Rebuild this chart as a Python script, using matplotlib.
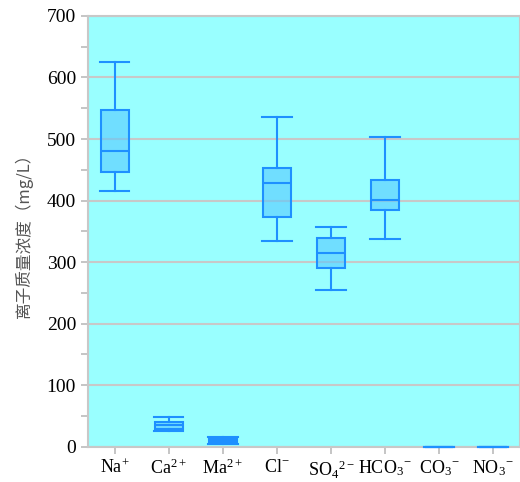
import matplotlib
matplotlib.use("Agg")
import matplotlib.pyplot as plt

plt.rcParams["font.family"] = "Liberation Serif"
plt.rcParams["mathtext.fontset"] = "custom"
plt.rcParams["mathtext.rm"] = "Liberation Serif"
plt.rcParams["mathtext.it"] = "Liberation Serif"

# ion labels and box statistics (mg/L)
ions = [r"Na$^{+}$", r"Ca$^{2+}$", r"Ma$^{2+}$", r"Cl$^{-}$",
        r"SO$_{4}$$^{2-}$", r"HCO$_{3}$$^{-}$", r"CO$_{3}$$^{-}$", r"NO$_{3}$$^{-}$"]
whislo = [416, 26, 5, 335, 255, 337, 0, 0]
q1 = [447, 29, 7, 374, 290, 385, 0, 0]
med = [481, 36, 10, 428, 315, 401, 0, 0]
q3 = [547, 41, 13, 453, 339, 433, 0, 0]
whishi = [625, 49, 16, 535, 357, 504, 0, 0]

stats = []
for i in range(len(ions)):
    stats.append({"whislo": whislo[i], "q1": q1[i], "med": med[i],
                  "q3": q3[i], "whishi": whishi[i], "fliers": []})

edge = "#1E90FF"
fig = plt.figure(figsize=(5.2, 4.82), dpi=100)
ax = fig.add_axes([0.169, 0.073, 0.831, 0.894])
ax.set_facecolor("#99FFFF")

pos = list(range(len(ions)))
# filled boxes (semi-transparent so the grid shows through)
ax.bxp(stats, positions=pos, widths=0.52, patch_artist=True,
       showfliers=False, showcaps=False, zorder=3,
       boxprops=dict(facecolor="#55C8FF", alpha=0.6, edgecolor="none"),
       medianprops=dict(visible=False),
       whiskerprops=dict(visible=False))
# outlines, whiskers, caps
ax.bxp(stats, positions=pos, widths=0.52, patch_artist=True,
       showfliers=False, zorder=3,
       boxprops=dict(facecolor="none", edgecolor=edge, linewidth=1.5),
       medianprops=dict(color=edge, linewidth=1.5),
       whiskerprops=dict(color=edge, linewidth=1.5),
       capprops=dict(color=edge, linewidth=1.5),
       capwidths=0.54)
for art in ax.lines + ax.patches:
    art.set_clip_on(False)

ax.set_xlim(-0.5, 7.5)
ax.set_ylim(0, 700)
ax.set_xticks(pos)
ax.set_xticklabels(ions, fontsize=13)
ax.set_yticks(range(0, 701, 100))
ax.set_yticks(range(50, 700, 100), minor=True)
ax.tick_params(axis="y", which="both", colors="#BBBBBB", length=5, width=1.2,
               labelcolor="black", labelsize=14)
ax.tick_params(axis="x", colors="#BBBBBB", length=5, width=1.2,
               labelcolor="black")
ax.grid(axis="y", which="major", color="#C8C8C8", linewidth=1.5)
ax.set_axisbelow(True)
for s in ax.spines.values():
    s.set_color("#C8C8C8")
    s.set_linewidth(1.5)
    s.set_zorder(2)

ax.set_ylabel("离子质量浓度（mg/L）", fontsize=12,
              family=["Noto Sans CJK SC", "DejaVu Sans"], color="#555555",
              labelpad=10)

fig.savefig("out.png")
